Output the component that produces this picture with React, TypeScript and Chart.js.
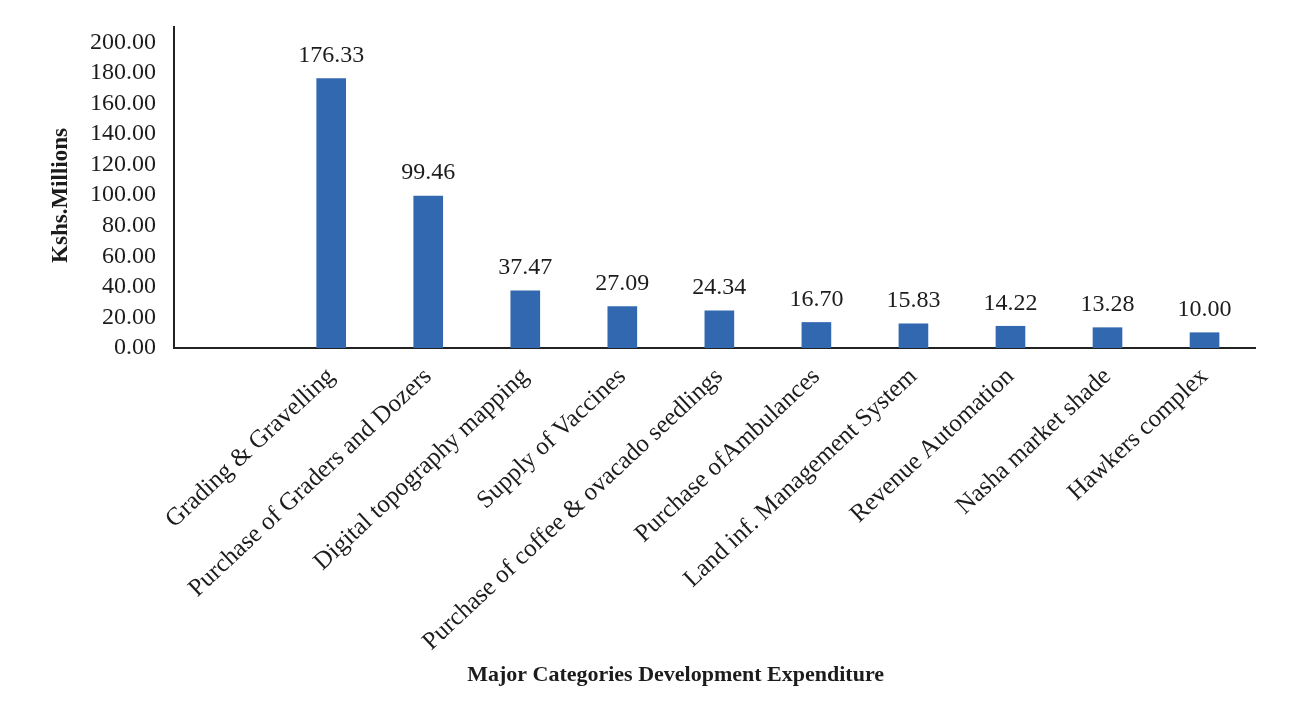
import React, { useEffect, useRef } from "react";
import { Chart, registerables } from "chart.js";

Chart.register(...registerables);

const categories = [
  "Grading & Gravelling",
  "Purchase of Graders and Dozers",
  "Digital topography mapping",
  "Supply of Vaccines",
  "Purchase of coffee & ovacado seedlings",
  "Purchase ofAmbulances",
  "Land inf. Management System",
  "Revenue Automation",
  "Nasha market shade",
  "Hawkers complex",
];
const values = [176.33, 99.46, 37.47, 27.09, 24.34, 16.7, 15.83, 14.22, 13.28, 10.0];
const yTickValues = [0, 20, 40, 60, 80, 100, 120, 140, 160, 180, 200];
const yAxisTitle = "Kshs.Millions";
const xAxisTitle = "Major Categories Development Expenditure";

const FONT = '"Liberation Serif", "Times New Roman", serif';
const TEXT = "#1c1c1c";
const BAR = "#3168b0";

const dataLabelPlugin = {
  id: "dataLabels",
  afterDatasetsDraw(chart: any) {
    const ctx = chart.ctx;
    const meta = chart.getDatasetMeta(0);
    ctx.save();
    ctx.font = `24px ${FONT}`;
    ctx.fillStyle = TEXT;
    ctx.textAlign = "center";
    ctx.textBaseline = "middle";
    meta.data.forEach((el: any, i: number) => {
      ctx.fillText(values[i].toFixed(2), el.x, el.y - 23);
    });
    ctx.restore();
  },
};

const titlesPlugin = {
  id: "axisTitles",
  afterDraw(chart: any) {
    const ctx = chart.ctx;
    const area = chart.chartArea;
    ctx.save();
    ctx.fillStyle = TEXT;
    ctx.textAlign = "center";
    ctx.textBaseline = "middle";
    ctx.font = `bold 22px ${FONT}`;
    ctx.fillText(xAxisTitle, area.left + area.width * 0.464, chart.height - 25);
    ctx.font = `bold 23px ${FONT}`;
    ctx.translate(53, (area.top + area.bottom) / 2 + 8);
    ctx.rotate(-Math.PI / 2);
    ctx.fillText(yAxisTitle, 0, 0);
    ctx.restore();
  },
};

export default function App() {
  const ref = useRef<HTMLCanvasElement | null>(null);

  useEffect(() => {
    if (!ref.current) return;
    const chart = new Chart(ref.current, {
      type: "bar",
      data: {
        datasets: [
          {
            data: categories.map((_, i) => ({ x: i + 1, y: values[i] })),
            backgroundColor: BAR,
            borderWidth: 0,
            barThickness: 29,
          },
        ],
      },
      options: {
        animation: false,
        responsive: false,
        maintainAspectRatio: false,
        layout: { padding: { top: 19, right: 28, left: 0, bottom: 0 } },
        plugins: {
          legend: { display: false },
          tooltip: { enabled: false },
        },
        scales: {
          x: {
            type: "linear",
            min: -0.62,
            max: 10.52,
            offset: false,
            grid: { display: false, drawTicks: false },
            border: { display: true, color: "#222", width: 2 },
            afterBuildTicks: (scale: any) => {
              scale.ticks = categories.map((_, i) => ({ value: i + 1 }));
            },
            afterFit: (scale: any) => {
              scale.height = 352;
              scale.paddingLeft = 0;
              scale.paddingRight = 0;
            },
            ticks: {
              autoSkip: false,
              minRotation: 43,
              maxRotation: 43,
              padding: 14,
              color: TEXT,
              font: { family: FONT, size: 25 },
              callback: (v: any) => categories[Number(v) - 1] ?? "",
            },
          },
          y: {
            min: 0,
            max: 210,
            grid: { display: false, drawTicks: false },
            border: { display: true, color: "#222", width: 2 },
            afterBuildTicks: (scale: any) => {
              scale.ticks = yTickValues.map((v) => ({ value: v }));
            },
            afterFit: (scale: any) => {
              scale.width = 166;
              scale.paddingTop = 0;
              scale.paddingBottom = 0;
            },
            ticks: {
              padding: 18,
              color: TEXT,
              font: { family: FONT, size: 24 },
              callback: (v: any) => Number(v).toFixed(2),
            },
          },
        },
      },
      plugins: [dataLabelPlugin, titlesPlugin],
    } as any);
    return () => chart.destroy();
  }, []);

  return (
    <canvas
      ref={ref}
      width={1275}
      height={692}
      style={{ display: "block", width: 1275, height: 692, outline: "1px solid #f2f2f2" }}
    />
  );
}
